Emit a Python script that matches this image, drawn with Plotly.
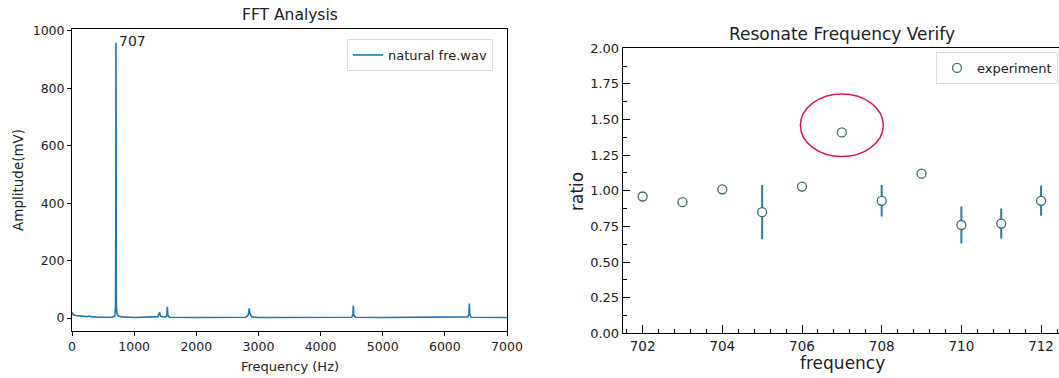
import plotly.graph_objects as go

# ---------------- data ----------------
# FFT spectrum (key points)
fft_freq = [0, 20, 60, 150, 250, 280, 320, 500, 650, 690, 700, 704, 707, 710, 714,
            722, 740, 800, 1000, 1380, 1410, 1425, 1500, 1525, 1534, 1543, 1570,
            2000, 2800, 2835, 2853, 2860, 2872, 2890, 3000, 4000, 4500, 4520, 4527,
            4535, 4560, 5000, 6000, 6370, 6388, 6394, 6400, 6420, 7000]
fft_amp = [20, 12, 9, 7, 5, 7, 4, 3, 3, 8, 40, 300, 958, 300, 40,
           18, 8, 4, 2, 5, 20, 6, 3, 8, 39, 8, 3,
           2, 3, 10, 34, 18, 12, 4, 2, 2, 3, 10, 43,
           10, 3, 2, 2, 4, 15, 51, 15, 3, 2]
assert len(fft_freq) == len(fft_amp)

peak_freq = 707
peak_amp = 958
peak_label = "707"

# Resonance verification
res_freq = [702, 703, 704, 705, 706, 707, 708, 709, 710, 711, 712]
res_ratio = [0.96, 0.92, 1.01, 0.85, 1.03, 1.41, 0.93, 1.12, 0.76, 0.77, 0.93]
res_err = [0.0, 0.0, 0.03, 0.19, 0.0, 0.0, 0.11, 0.0, 0.13, 0.105, 0.105]

# highlight ellipse around suspicious point (data coords)
ell_x = [705.96, 708.04]
ell_y = [1.24, 1.68]

W, H = 1059, 378
FONT = "DejaVu Sans"
TXT = "#222222"


def px(x):
    return x / W


def py(y):
    return (H - y) / H


fig = go.Figure()

fig.add_trace(go.Scatter(
    x=fft_freq, y=fft_amp, mode="lines", name="natural fre.wav",
    line=dict(color="#1f77b4", width=1.6),
    xaxis="x", yaxis="y", legend="legend",
))

fig.add_trace(go.Scatter(
    x=res_freq, y=res_ratio, mode="markers", name="experiment",
    marker=dict(symbol="circle", size=9, color="white",
                line=dict(color="#3d6b6b", width=1.3)),
    error_y=dict(type="data", array=res_err, visible=True,
                 color="#2a7f98", thickness=2, width=0),
    xaxis="x2", yaxis="y2", legend="legend2",
))

axis_common = dict(showgrid=False, zeroline=False, showline=True,
                   linecolor="black", linewidth=1, mirror=True,
                   automargin=False)

fig.update_layout(
    template="none",
    width=W, height=H,
    margin=dict(l=0, r=0, t=0, b=0, pad=0, autoexpand=False),
    paper_bgcolor="white", plot_bgcolor="white",
    font=dict(family=FONT, color=TXT),
    xaxis=dict(domain=[px(72), px(507)], range=[0, 7000], dtick=1000,
               ticks="outside", ticklen=4, tickcolor="black",
               tickfont=dict(family=FONT, size=12.5, color=TXT),
               anchor="y", **axis_common),
    yaxis=dict(domain=[py(331), py(29)], range=[-45, 1006], dtick=200,
               tick0=0, ticks="outside", ticklen=4, tickcolor="black",
               tickfont=dict(family=FONT, size=12.5, color=TXT),
               anchor="x", **axis_common),
    xaxis2=dict(domain=[px(622.7), 1.0], range=[701.5, 712.45],
                tick0=702, dtick=2, ticks="inside", ticklen=8,
                tickcolor="black",
                minor=dict(tick0=702, dtick=0.4, ticks="inside", ticklen=4,
                           tickcolor="black"),
                tickfont=dict(family=FONT, size=13.5, color=TXT),
                anchor="y2", **axis_common),
    yaxis2=dict(domain=[py(333.3), py(48.3)], range=[0, 2.0],
                tick0=0, dtick=0.25, tickformat=".2f", ticks="inside",
                ticklen=7, tickcolor="black",
                minor=dict(dtick=0.125, ticks="inside", ticklen=4,
                           tickcolor="black"),
                tickfont=dict(family=FONT, size=13, color=TXT),
                anchor="x2", **axis_common),
    legend=dict(x=px(493), y=py(39), xanchor="right", yanchor="top",
                bgcolor="white", bordercolor="#dddddd", borderwidth=1,
                font=dict(family=FONT, size=13, color=TXT),
                itemwidth=30, tracegroupgap=0),
    legend2=dict(x=px(1058), y=py(52), xanchor="right", yanchor="top",
                 bgcolor="white", bordercolor="#dddddd", borderwidth=1,
                 font=dict(family=FONT, size=13, color=TXT),
                 itemwidth=30),
    showlegend=True,
)

# ellipse highlight
fig.add_shape(type="circle", xref="x2", yref="y2",
              x0=ell_x[0], x1=ell_x[1], y0=ell_y[0], y1=ell_y[1],
              line=dict(color="#d81b4a", width=1.5))

annos = [
    dict(text="FFT Analysis", x=px(290), y=py(15), size=15.5),
    dict(text="Frequency (Hz)", x=px(290), y=py(366), size=13),
    dict(text="Resonate Frequency Verify", x=px(842), y=py(34), size=17),
    dict(text="frequency", x=px(842), y=py(363), size=17),
]
for a in annos:
    fig.add_annotation(text=a["text"], x=a["x"], y=a["y"], xref="paper",
                       yref="paper", xanchor="center", yanchor="middle",
                       showarrow=False,
                       font=dict(family=FONT, size=a["size"], color=TXT))

fig.add_annotation(text="Amplitude(mV)", x=px(18), y=py(180), xref="paper",
                   yref="paper", textangle=-90, showarrow=False,
                   xanchor="center", yanchor="middle",
                   font=dict(family=FONT, size=13.5, color=TXT))
fig.add_annotation(text="ratio", x=px(577), y=py(192), xref="paper",
                   yref="paper", textangle=-90, showarrow=False,
                   xanchor="center", yanchor="middle",
                   font=dict(family=FONT, size=17, color=TXT))

fig.add_annotation(text=peak_label, x=peak_freq, y=peak_amp, xref="x",
                   yref="y", xanchor="left", yanchor="bottom", showarrow=False,
                   xshift=1, yshift=-8,
                   font=dict(family=FONT, size=14, color=TXT))

fig.write_html("out.html")
